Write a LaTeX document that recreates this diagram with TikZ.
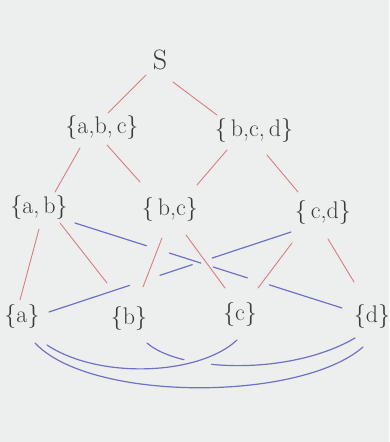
\documentclass[tikz,border=0pt]{standalone}
\usepackage{fontspec}
\begin{document}
\begin{tikzpicture}[x=1pt,y=-1pt,
  lbl/.style={inner sep=0pt,text=ink,font=\fontsize{24}{27}\selectfont},
  big/.style={inner sep=0pt,text=ink,font=\fontsize{28}{30}\selectfont},
  redl/.style={draw=redline,line width=0.9pt,line cap=round},
  bluel/.style={draw=blueline,line width=1.2pt,line cap=round}]
\definecolor{ink}{HTML}{3A3A3A}
\definecolor{redline}{HTML}{DC7C80}
\definecolor{blueline}{HTML}{6F70C6}
\definecolor{paper}{HTML}{EDEFEE}
\fill[paper] (0,0) rectangle (389,442);
\useasboundingbox (0,0) rectangle (389,442);
% nodes
\node[big] (S) at (160,60) {S};
\node[lbl] (abc) at (102,127) {\{a,b,\,c\}};
\node[lbl] (bcd) at (254,130) {\{\,b,c,\,d\}};
\node[lbl] (ab) at (39,207) {\{a,\,b\}};
\node[lbl] (bc) at (170,209) {\{\,b,c\}};
\node[lbl] (cd) at (323,212) {\{\,c,d\}};
\node[lbl] (a) at (22,316) {\{a\}};
\node[lbl] (b) at (129,318) {\{b\}};
\node[lbl] (c) at (240,314) {\{c\}};
\node[lbl] (d) at (372,316) {\{d\}};
% red edges
\draw[redl] ([shift={(-14,15)}]S.center) -- ([shift={(6,-14)}]abc.center);
\draw[redl] ([shift={(13,22)}]S.center) -- ([shift={(-37,-15)}]bcd.center);
\draw[redl] ([shift={(-22,21)}]abc.center) -- ([shift={(16,-15)}]ab.center);
\draw[redl] ([shift={(5,18)}]abc.center) -- ([shift={(-30,-27)}]bc.center);
\draw[redl] ([shift={(-27,20)}]bcd.center) -- ([shift={(27,-24)}]bc.center);
\draw[redl] ([shift={(13,25)}]bcd.center) -- ([shift={(-25,-20)}]cd.center);
\draw[redl] ([shift={(0,22)}]ab.center) -- ([shift={(-2,-16)}]a.center);
\draw[redl] ([shift={(21,16)}]ab.center) -- ([shift={(-22,-35)}]b.center);
\draw[redl] ([shift={(-8,29)}]bc.center) -- ([shift={(14,-31)}]b.center);
\draw[redl] ([shift={(16,26)}]bc.center) -- ([shift={(-15,-26)}]c.center);
\draw[redl] ([shift={(-31,31)}]cd.center) -- ([shift={(18,-26)}]c.center);
\draw[redl] ([shift={(5,27)}]cd.center) -- ([shift={(-18,-34)}]d.center);
% blue straight edges (broken where they pass under other lines)
\draw[bluel,dash pattern=on 75pt off 24pt on 33pt off 13pt on 36pt off 23pt on 120pt]
  ([shift={(36,16)}]ab.center) -- ([shift={(-30,-8)}]d.center);
\draw[bluel,dash pattern=on 83pt off 21pt on 34pt off 32pt on 110pt]
  ([shift={(-32,20)}]cd.center) -- ([shift={(27,-4)}]a.center);
% blue curves
\draw[bluel] ([shift={(25,29)}]a.center) .. controls (100,380) and (200,375) .. ([shift={(-3,26)}]c.center);
\draw[bluel,dash pattern=on 41pt off 28pt on 300pt] ([shift={(18,25)}]b.center) .. controls (180,372) and (290,376) .. ([shift={(-17,22)}]d.center);
\draw[bluel] ([shift={(13,27)}]a.center) .. controls (90,402) and (300,402) .. ([shift={(-9,31)}]d.center);
\end{tikzpicture}
\end{document}
